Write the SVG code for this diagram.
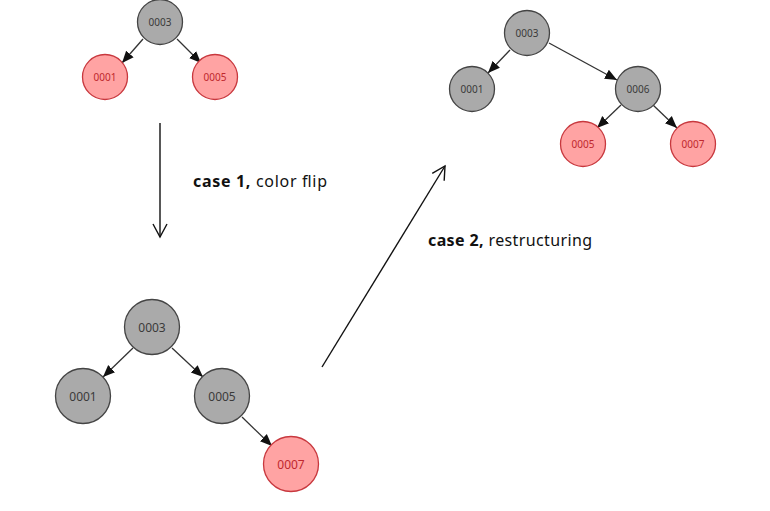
<svg xmlns="http://www.w3.org/2000/svg" width="770" height="511" viewBox="0 0 770 511">
<style>
.g{fill:#aaaaaa;stroke:#444;stroke-width:1.3}
.r{fill:#ffa3a3;stroke:#c8383e;stroke-width:1.3}
.tg{fill:#3a3a3a;font-family:"Noto Sans","Open Sans",sans-serif;text-anchor:middle;dominant-baseline:central}
.tr{fill:#c0282e;font-family:"Noto Sans","Open Sans",sans-serif;text-anchor:middle;dominant-baseline:central}
.s{font-size:10px}
.b{font-size:12px}
.e{stroke:#333;stroke-width:1.3;fill:none;marker-end:url(#ah)}
.big{stroke:#111;stroke-width:1.4;fill:none;marker-end:url(#oh)}
.lbl{font-family:"Noto Sans","Open Sans",sans-serif;font-size:16px;fill:#111}
</style>
<defs>
<marker id="ah" markerUnits="userSpaceOnUse" markerWidth="14" markerHeight="14" viewBox="0 0 14 14" refX="12" refY="7" orient="auto">
<path d="M0,2 L12,7 L0,12 Z" fill="#111"/>
</marker>
<marker id="oh" markerUnits="userSpaceOnUse" markerWidth="16" markerHeight="18" viewBox="0 0 16 18" refX="14" refY="9" orient="auto">
<path d="M1,2 L14,9 L1,16" fill="none" stroke="#111" stroke-width="1.4"/>
</marker>
</defs>
<g id="connectors">
<line class="e" x1="143" y1="39" x2="122" y2="63"/>
<line class="e" x1="177" y1="39" x2="201" y2="63"/>
<line class="e" x1="510" y1="50" x2="488" y2="73"/>
<line class="e" x1="549" y1="43" x2="617" y2="80"/>
<line class="e" x1="621" y1="105" x2="597" y2="128"/>
<line class="e" x1="653" y1="105" x2="677" y2="128"/>
<line class="e" x1="133" y1="348" x2="103" y2="377"/>
<line class="e" x1="172" y1="348" x2="203" y2="377"/>
<line class="e" x1="242" y1="417" x2="272" y2="446"/>
<line class="big" x1="160" y1="123" x2="160" y2="237"/>
<line class="big" x1="322" y1="367" x2="445" y2="166"/>
</g>
<g id="t1-0003"><circle class="g" cx="160" cy="22" r="22.5"/><text class="tg s" x="160" y="22">0003</text></g>
<g id="t1-0001"><circle class="r" cx="105" cy="77" r="22.5"/><text class="tr s" x="105" y="77">0001</text></g>
<g id="t1-0005"><circle class="r" cx="215" cy="77" r="22.5"/><text class="tr s" x="215" y="77">0005</text></g>
<g id="t3-0003"><circle class="g" cx="527" cy="33" r="22.5"/><text class="tg s" x="527" y="33">0003</text></g>
<g id="t3-0001"><circle class="g" cx="472" cy="89" r="22.5"/><text class="tg s" x="472" y="89">0001</text></g>
<g id="t3-0006"><circle class="g" cx="638" cy="89" r="22.5"/><text class="tg s" x="638" y="89">0006</text></g>
<g id="t3-0005"><circle class="r" cx="583" cy="144" r="22.5"/><text class="tr s" x="583" y="144">0005</text></g>
<g id="t3-0007"><circle class="r" cx="693" cy="144" r="22.5"/><text class="tr s" x="693" y="144">0007</text></g>
<g id="t2-0003"><circle class="g" cx="152" cy="327" r="27.5"/><text class="tg b" x="152" y="327">0003</text></g>
<g id="t2-0001"><circle class="g" cx="83" cy="396" r="27.5"/><text class="tg b" x="83" y="396">0001</text></g>
<g id="t2-0005"><circle class="g" cx="222" cy="396" r="27.5"/><text class="tg b" x="222" y="396">0005</text></g>
<g id="t2-0007"><circle class="r" cx="291" cy="464" r="27.5"/><text class="tr b" x="291" y="464">0007</text></g>
<g id="labels">
<text class="lbl" x="193" y="187" textLength="134" lengthAdjust="spacing"><tspan font-weight="bold">case 1,</tspan> color flip</text>
<text class="lbl" x="428" y="246" textLength="164" lengthAdjust="spacing"><tspan font-weight="bold">case 2,</tspan> restructuring</text>
</g>
</svg>
